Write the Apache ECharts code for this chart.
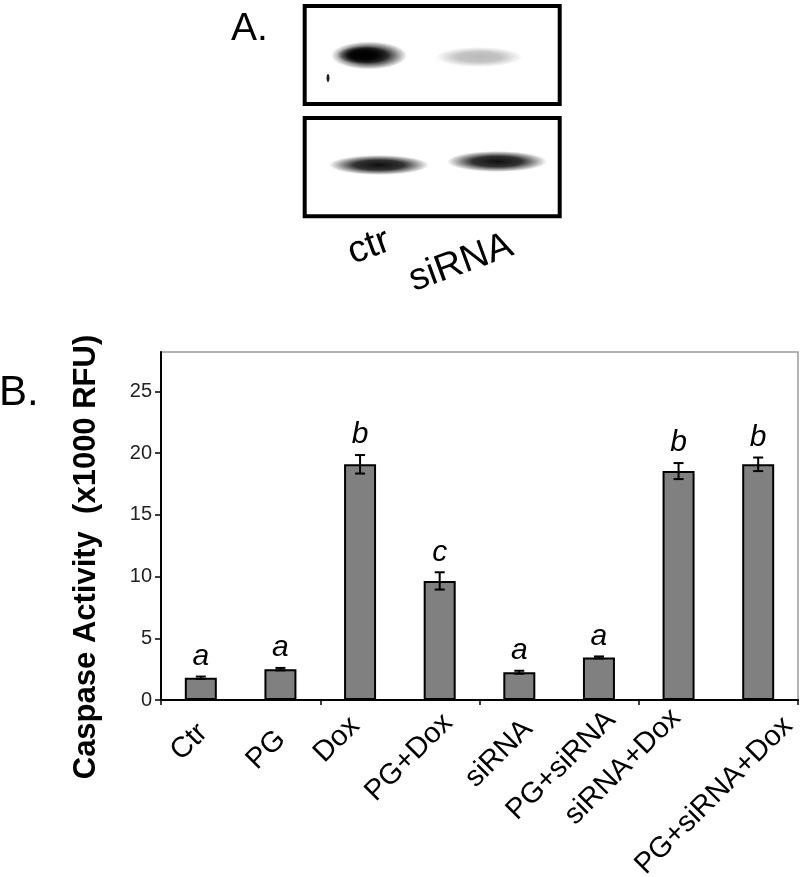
<!DOCTYPE html>
<html>
<head>
<meta charset="utf-8">
<script src="https://cdn.jsdelivr.net/npm/echarts@6/dist/echarts.min.js"></script>
<style>
html,body{margin:0;padding:0;background:#fff;}
#chart{width:800px;height:877px;}
</style>
</head>
<body>
<div id="chart"></div>
<script>
// ---- data ----
const categories = ['Ctr', 'PG', 'Dox', 'PG+Dox', 'siRNA', 'PG+siRNA', 'siRNA+Dox', 'PG+siRNA+Dox'];
const values = [1.8, 2.5, 19.1, 9.65, 2.25, 3.45, 18.55, 19.1];
const errors = [0.1, 0.1, 0.75, 0.7, 0.12, 0.08, 0.65, 0.55];
const letters = ['a', 'a', 'b', 'c', 'a', 'a', 'b', 'b'];
const blotLanes = ['ctr', 'siRNA'];
const yTitle = 'Caspase Activity  (x1000 RFU)';

// ---- layout: nudges of each rotated category label from its tick (px) ----
const labelDx = [2.2, 0.6, -5, 8.4, 8.8, 12.2, -2.4, 30];
const labelDy = [28.5, 35.1, 21.5, 18.5, 24.6, 15.6, 13.5, 21.5];

const FONT = '"Liberation Sans", Arial, sans-serif';
const chart = echarts.init(document.getElementById('chart'), null, {renderer: 'canvas'});

function blob(cx, cy, rx, ry, color, alpha) {
  const c0 = color.replace('A', alpha);
  const c1 = color.replace('A', alpha * 0.85);
  const c2 = color.replace('A', 0);
  return {
    type: 'circle', x: cx, y: cy, scaleX: rx / 10, scaleY: ry / 10,
    shape: {cx: 0, cy: 0, r: 10}, silent: true,
    style: {
      fill: new echarts.graphic.RadialGradient(0.5, 0.5, 0.5, [
        {offset: 0, color: c0},
        {offset: 0.5, color: c1},
        {offset: 1, color: c2}
      ])
    }
  };
}

const graphics = [
  {type: 'text', x: 231, y: 10, style: {text: 'A.', font: '39px ' + FONT, fill: '#000', textAlign: 'left', textVerticalAlign: 'top'}},
  {type: 'text', x: -1, y: 372, style: {text: 'B.', font: '42px ' + FONT, fill: '#000', textAlign: 'left', textVerticalAlign: 'top'}},
  {type: 'rect', shape: {x: 304.7, y: 6, width: 255, height: 98}, style: {fill: '#fff', stroke: '#000', lineWidth: 4}},
  {type: 'rect', shape: {x: 304.7, y: 118, width: 255, height: 98.3}, style: {fill: '#fff', stroke: '#000', lineWidth: 4}},
  blob(369, 55.5, 38, 14, 'rgba(0,0,0,A)', 0.95),
  blob(363, 55, 26, 9, 'rgba(0,0,0,A)', 1),
  blob(479, 57, 44, 10, 'rgba(100,100,100,A)', 0.45),
  {type: 'ellipse', shape: {cx: 328, cy: 78, rx: 1.5, ry: 4}, style: {fill: '#222'}},
  blob(379, 165, 50, 10, 'rgba(15,15,15,A)', 1),
  blob(497, 161.5, 50, 10.5, 'rgba(15,15,15,A)', 1),
  {type: 'text', x: 369, y: 247, rotation: 20 * Math.PI / 180, style: {text: blotLanes[0], font: '38px ' + FONT, fill: '#000', textAlign: 'center', textVerticalAlign: 'middle'}},
  {type: 'text', x: 461, y: 263, rotation: 20 * Math.PI / 180, style: {text: blotLanes[1], font: '38px ' + FONT, fill: '#000', textAlign: 'center', textVerticalAlign: 'middle'}},
  {type: 'text', x: 86.5, y: 557, rotation: Math.PI / 2, style: {text: yTitle, font: 'bold 31px ' + FONT, fill: '#000', textAlign: 'center', textVerticalAlign: 'middle'}}
];

const option = {
  backgroundColor: '#fff',
  animation: false,
  grid: {left: 161, right: 2, top: 352, bottom: 177, show: true, borderColor: '#999', borderWidth: 1.5, backgroundColor: 'transparent'},
  xAxis: {
    type: 'category',
    data: categories,
    axisLine: {lineStyle: {color: '#000', width: 2}},
    axisTick: {show: true, length: 5, lineStyle: {color: '#000', width: 1.5}},
    axisLabel: {show: false},
    splitLine: {show: false}
  },
  yAxis: {
    type: 'value',
    min: 0, max: 28.2, interval: 5,
    axisLine: {show: true, lineStyle: {color: '#000', width: 2}},
    axisTick: {show: true, length: 6, lineStyle: {color: '#000', width: 1.5}},
    axisLabel: {margin: 9, fontSize: 20, fontFamily: FONT, color: '#222', showMaxLabel: false,
      formatter: v => (v % 5 === 0 ? String(v) : '')},
    splitLine: {show: false}
  },
  series: [
    {
      type: 'bar',
      data: values,
      barWidth: 32,
      itemStyle: {color: '#808080', borderColor: '#000', borderWidth: 2},
      z: 2
    },
    {
      type: 'custom',
      data: values.map((v, i) => [i, v, errors[i]]),
      encode: {x: 0, y: 1},
      z: 5,
      renderItem: function (params, api) {
        const i = api.value(0);
        const v = api.value(1);
        const e = api.value(2);
        const x = api.coord([i, v])[0];
        const top = api.coord([i, v + e])[1];
        const bot = api.coord([i, v - e])[1];
        const base = api.coord([i, 0]);
        const hw = 5;
        const ls = {stroke: '#000', lineWidth: 2};
        const k = params.dataIndex;
        return {
          type: 'group',
          children: [
            {type: 'line', shape: {x1: x, y1: top, x2: x, y2: bot}, style: ls},
            {type: 'line', shape: {x1: x - hw, y1: top, x2: x + hw, y2: top}, style: ls},
            {type: 'line', shape: {x1: x - hw, y1: bot, x2: x + hw, y2: bot}, style: ls},
            {type: 'text', x: x, y: top - 5, style: {text: letters[k], font: 'italic 30px ' + FONT, fill: '#000', textAlign: 'center', textVerticalAlign: 'bottom'}},
            {type: 'text', x: base[0] + labelDx[k], y: base[1] + labelDy[k], rotation: Math.PI / 4,
              style: {text: categories[k], font: '29px ' + FONT, fill: '#000', textAlign: 'right', textVerticalAlign: 'middle'}}
          ]
        };
      }
    }
  ],
  graphic: graphics
};
chart.setOption(option);
</script>
</body>
</html>
